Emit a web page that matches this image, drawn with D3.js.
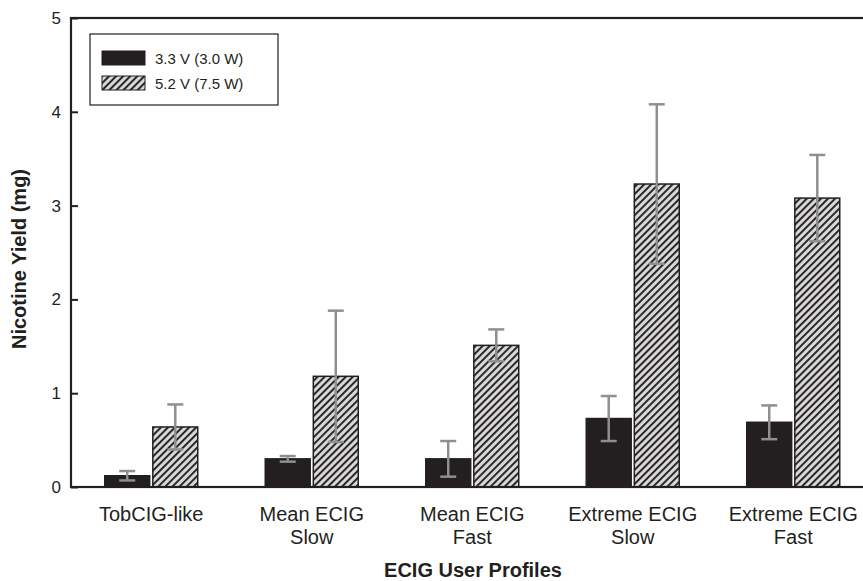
<!DOCTYPE html>
<html>
<head>
<meta charset="utf-8">
<script src="https://cdn.jsdelivr.net/npm/d3@7"></script>
<style>
  body { margin: 0; background: #fff; }
  text { font-family: Arial, "Liberation Sans", sans-serif; fill: #231f20; }
</style>
</head>
<body>
<script>
// data
var profiles = [['TobCIG-like'], ['Mean ECIG', 'Slow'], ['Mean ECIG', 'Fast'], ['Extreme ECIG', 'Slow'], ['Extreme ECIG', 'Fast']];
var seriesNames = ['3.3 V (3.0 W)', '5.2 V (7.5 W)'];
var lowValues  = [0.12, 0.30, 0.30, 0.73, 0.69];
var lowErrors  = [0.05, 0.03, 0.19, 0.24, 0.18];
var highValues = [0.64, 1.18, 1.51, 3.23, 3.08];
var highErrors = [0.24, 0.70, 0.17, 0.85, 0.46];
var yTicks = [0, 1, 2, 3, 4, 5];

// init
var width  = 863,
    height = 581,
    plot   = { left: 71, right: 873.5, top: 18, bottom: 487 },
    ink    = '#231f20',
    errGray = '#8f8f8f';

var svg = d3.select('body')
    .append('svg')
    .attr('width', width)
    .attr('height', height);

// hatch pattern
var pat = svg.append('defs').append('pattern')
    .attr('id', 'hatch')
    .attr('patternUnits', 'userSpaceOnUse')
    .attr('width', 5)
    .attr('height', 5)
    .attr('patternTransform', 'rotate(45)');
pat.append('rect').attr('width', 5).attr('height', 5).attr('fill', '#d8d8d8');
pat.append('rect').attr('x', 0).attr('width', 1.9).attr('height', 5).attr('fill', ink);

// scales
var keys = profiles.map(function(d) { return d.join(' '); });
var xScale = d3.scaleBand().domain(keys).range([plot.left, plot.right]);
var xSub = d3.scaleBand().domain(seriesNames).range([-46.5, 46.5]).paddingInner(0.065);
var yScale = d3.scaleLinear().domain([0, 5]).range([plot.bottom, plot.top]);

// rows
var rows = [];
keys.forEach(function(k, i) {
    rows.push({ key: k, s: seriesNames[0], v: lowValues[i], e: lowErrors[i] });
    rows.push({ key: k, s: seriesNames[1], v: highValues[i], e: highErrors[i] });
});
function barX(d) { return xScale(d.key) + xScale.bandwidth() / 2 + xSub(d.s); }

// bars
svg.selectAll('.bar').data(rows).enter()
    .append('rect')
    .attr('class', 'bar')
    .attr('x', barX)
    .attr('y', function(d) { return yScale(d.v); })
    .attr('width', xSub.bandwidth())
    .attr('height', function(d) { return yScale(0) - yScale(d.v); })
    .attr('fill', function(d) { return d.s === seriesNames[0] ? ink : 'url(#hatch)'; })
    .attr('stroke', ink)
    .attr('stroke-width', 1.5);

// error bars
var err = svg.selectAll('.err').data(rows).enter().append('g')
    .attr('class', 'err')
    .attr('stroke', errGray)
    .attr('stroke-width', 2.5);
err.append('line')
    .attr('x1', function(d) { return barX(d) + xSub.bandwidth() / 2; })
    .attr('x2', function(d) { return barX(d) + xSub.bandwidth() / 2; })
    .attr('y1', function(d) { return yScale(d.v - d.e); })
    .attr('y2', function(d) { return yScale(d.v + d.e); });
[1, -1].forEach(function(sgn) {
    err.append('line')
        .attr('x1', function(d) { return barX(d) + xSub.bandwidth() / 2 - 8; })
        .attr('x2', function(d) { return barX(d) + xSub.bandwidth() / 2 + 8; })
        .attr('y1', function(d) { return yScale(d.v + sgn * d.e); })
        .attr('y2', function(d) { return yScale(d.v + sgn * d.e); });
});

// frame
svg.append('rect')
    .attr('x', plot.left)
    .attr('y', plot.top)
    .attr('width', plot.right - plot.left)
    .attr('height', plot.bottom - plot.top)
    .attr('fill', 'none')
    .attr('stroke', ink)
    .attr('stroke-width', 2.2);

// y axis
var yAxis = svg.append('g')
    .attr('transform', 'translate(' + plot.left + ',0)')
    .call(d3.axisRight(yScale).tickValues(yTicks).tickSize(7).tickFormat(''));
yAxis.select('.domain').remove();
yAxis.selectAll('line').attr('stroke', ink).attr('stroke-width', 2);
svg.selectAll('.ytl').data(yTicks).enter()
    .append('text')
    .attr('class', 'ytl')
    .attr('x', 61)
    .attr('y', function(d) { return yScale(d) + 6; })
    .attr('text-anchor', 'end')
    .style('font-size', '17px')
    .text(function(d) { return d; });

// x labels
var xl = svg.selectAll('.xl').data(profiles).enter()
    .append('text')
    .attr('class', 'xl')
    .attr('x', function(d, i) { return xScale(keys[i]) + xScale.bandwidth() / 2; })
    .attr('y', 521)
    .attr('text-anchor', 'middle')
    .style('font-size', '20px');
xl.selectAll('tspan').data(function(d) { return d; }).enter()
    .append('tspan')
    .attr('x', function() { return d3.select(this.parentNode).attr('x'); })
    .attr('dy', function(d, i) { return i ? 23 : 0; })
    .text(function(d) { return d; });

// axis titles
svg.append('text')
    .attr('x', 473)
    .attr('y', 577)
    .attr('text-anchor', 'middle')
    .style('font-size', '20px')
    .style('font-weight', 'bold')
    .text('ECIG User Profiles');
svg.append('text')
    .attr('transform', 'translate(26,259) rotate(-90)')
    .attr('text-anchor', 'middle')
    .style('font-size', '20px')
    .style('font-weight', 'bold')
    .text('Nicotine Yield (mg)');

// legend
var lg = svg.append('g');
lg.append('rect')
    .attr('x', 90).attr('y', 34).attr('width', 188).attr('height', 71)
    .attr('fill', '#fff').attr('stroke', ink).attr('stroke-width', 1.2);
seriesNames.forEach(function(s, i) {
    lg.append('rect')
        .attr('x', 102).attr('y', 51 + i * 25).attr('width', 43).attr('height', 14)
        .attr('fill', i ? 'url(#hatch)' : ink)
        .attr('stroke', ink).attr('stroke-width', 1);
    lg.append('text')
        .attr('x', 155).attr('y', 64 + i * 25)
        .style('font-size', '15px')
        .text(s);
});
</script>
</body>
</html>
